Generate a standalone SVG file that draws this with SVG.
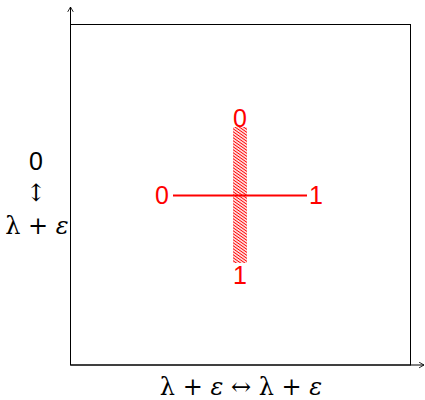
<svg xmlns="http://www.w3.org/2000/svg" width="425" height="400" viewBox="0 0 425 400">
<style>
.ax{stroke:#000;stroke-width:1;fill:none}
.red{fill:#f00;font-family:"Liberation Sans",Arial,sans-serif;font-size:25px;text-anchor:middle}
.math{fill:#000;font-family:"DejaVu Serif","Liberation Serif",serif;font-size:24px;text-anchor:middle}
.num{fill:#000;font-family:"Liberation Sans",Arial,sans-serif;font-size:25px;text-anchor:middle}
</style>
<defs>
<marker id="arr" viewBox="0 0 10 10" refX="9" refY="5" markerWidth="7" markerHeight="7" orient="auto">
<path d="M2,1 L9,5 L2,9" fill="none" stroke="#000" stroke-width="1.2"/>
</marker>
<pattern id="hatch" patternUnits="userSpaceOnUse" width="14" height="3" patternTransform="skewY(35)">
<line x1="0" y1="1.5" x2="14" y2="1.5" stroke="#f00" stroke-width="1.3"/>
</pattern>
</defs>
<g id="frame">
<rect x="70.5" y="24.5" width="340" height="340.5" class="ax"/>
</g>
<g id="connectors">
<line x1="70.5" y1="365" x2="70.5" y2="7" class="ax" marker-end="url(#arr)"/>
<line x1="70.5" y1="365" x2="424" y2="365" class="ax" marker-end="url(#arr)"/>
<line x1="173" y1="195.5" x2="307" y2="195.5" stroke="#f00" stroke-width="2"/>
</g>
<g id="strip">
<rect x="233" y="127" width="14" height="136" fill="url(#hatch)"/>
</g>
<g id="labels">
<text x="240" y="127" class="red">0</text>
<text x="240" y="284" class="red">1</text>
<text x="162" y="204" class="red">0</text>
<text x="316" y="204" class="red">1</text>
<text x="36" y="170" class="num">0</text>
<text x="36" y="201" class="math">↕</text>
<text x="37" y="234" class="math">λ + <tspan font-style="italic">ε</tspan></text>
<text x="241" y="395" class="math">λ + <tspan font-style="italic">ε</tspan> ↔ λ + <tspan font-style="italic">ε</tspan></text>
</g>
</svg>
